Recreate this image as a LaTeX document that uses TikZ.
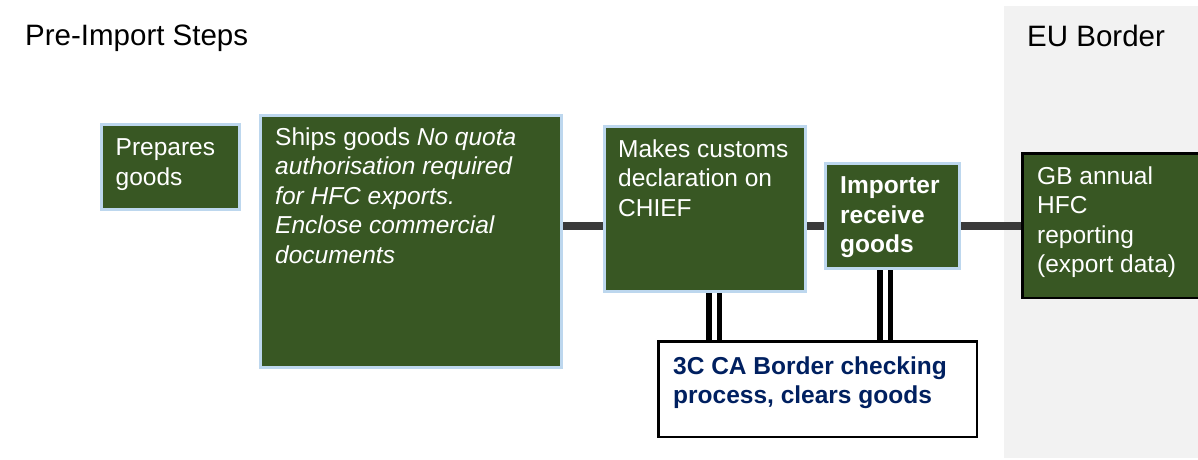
\documentclass[tikz,border=0pt]{standalone}
\usepackage{fontspec}
\setmainfont{Liberation Sans}
\usetikzlibrary{calc}
\definecolor{boxgreen}{HTML}{385723}
\definecolor{boxblue}{HTML}{BDD7EE}
\definecolor{panelgray}{HTML}{F2F2F2}
\definecolor{connGray}{HTML}{3A3A3A}
\definecolor{navy}{HTML}{002060}
\tikzset{
  gbox/.style={draw=boxblue, line width=3pt, fill=boxgreen, inner sep=0pt},
  gboxdark/.style={draw=black, line width=2.5pt, fill=boxgreen, inner sep=0pt},
  wbox/.style={draw=black, line width=2.5pt, fill=white, inner sep=0pt},
  txt/.style={anchor=north west, inner sep=0pt, align=left, text=white,
    font=\fontsize{24.5}{29.5}\selectfont},
  ttl/.style={anchor=north west, inner sep=0pt, text=black,
    font=\fontsize{29.5}{35}\selectfont},
  conn/.style={draw=connGray, line width=8.5pt},
  dbl/.style={draw=black, line width=5.5pt, double=white, double distance=5pt},
}
\begin{document}
\begin{tikzpicture}[x=1pt,y=-1pt]
\clip (0,0) rectangle (1198,459);
\useasboundingbox (0,0) rectangle (1198,459);
\fill[panelgray] (1004,6) rectangle (1198,458);
\node[ttl] (title) at (25,24.5) {Pre-Import Steps};
\node[ttl] (eutitle) at (1027,24.5) {EU Border};
\coordinate (lineY) at (0,226);
% boxes
\node[gbox, minimum width=137.5pt, minimum height=85pt] (prep) at (170.25,167) {};
\node[gbox, minimum width=301pt, minimum height=252pt] (ships) at (411,241.5) {};
\node[gbox, minimum width=201pt, minimum height=165pt] (customs) at (705,209) {};
\node[gbox, minimum width=134pt, minimum height=105pt] (importer) at (892.5,216) {};
\node[gboxdark, minimum width=176.5pt, minimum height=144.5pt] (gb) at (1110.5,225.5) {};
\node[wbox, minimum width=318.5pt, minimum height=95.5pt] (check) at (817.5,389) {};
% connectors
\draw[conn] (ships.east |- lineY) -- (customs.west |- lineY);
\draw[conn] (customs.east |- lineY) -- (importer.west |- lineY);
\draw[conn] (importer.east |- lineY) -- (gb.west |- lineY);
\draw[dbl] ([xshift=9pt]customs.south) -- ([xshift=9pt]customs.south |- check.north);
\draw[dbl] ([xshift=-7.5pt]importer.south) -- ([xshift=-7.5pt]importer.south |- check.north);
% texts
\node[txt] (preptxt) at (115.5,138.5) {Prepares\\goods};
\node[txt] (shipstxt) at (275,127.5) {Ships goods \textit{No quota}\\\textit{authorisation required}\\\textit{for HFC exports.}\\\textit{Enclose commercial}\\\textit{documents}};
\node[txt] (customstxt) at (618,139.5) {Makes customs\\declaration on\\CHIEF};
\node[txt, font=\fontsize{24.5}{29.5}\selectfont\bfseries] (importertxt) at (840,176.5) {Importer\\receive\\goods};
\node[txt] (gbtxt) at (1037,166.5) {GB annual\\HFC\\reporting\\(export data)};
\node[txt, text=navy, font=\fontsize{24.5}{29.5}\selectfont\bfseries] (checktxt) at (673,356.5) {3C CA Border checking\\process, clears goods};
\end{tikzpicture}
\end{document}
